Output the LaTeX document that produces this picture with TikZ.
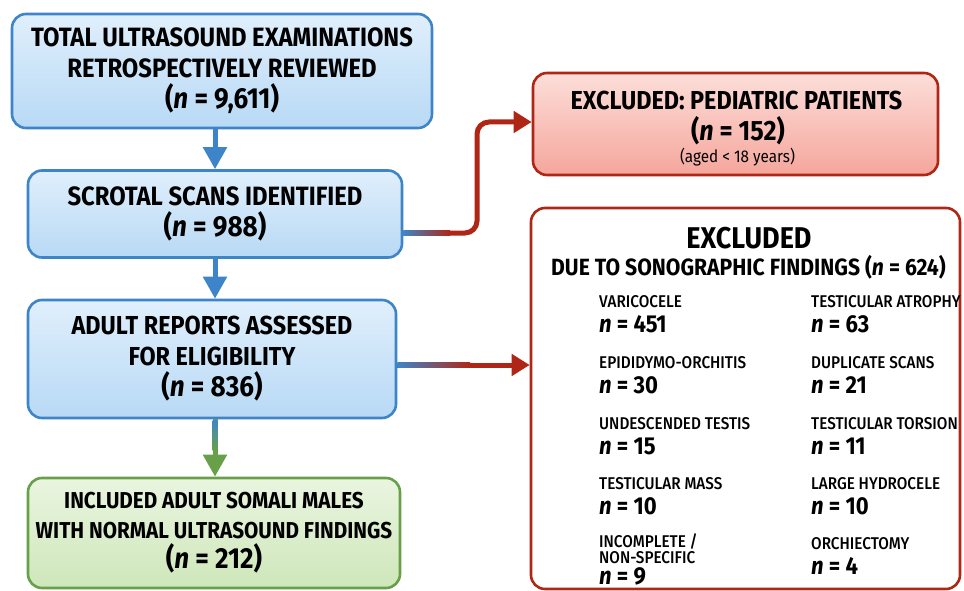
\documentclass[tikz,border=0pt]{standalone}
\usepackage{fontspec}
\setmainfont{Fira Sans}[FakeStretch=0.9]
\newfontfamily\medfont{Fira Sans Medium}[FakeStretch=0.9]
\usetikzlibrary{arrows.meta,calc}
\definecolor{blueline}{RGB}{61,133,200}
\definecolor{bluetop}{RGB}{224,239,252}
\definecolor{bluebot}{RGB}{184,217,245}
\definecolor{greenline}{RGB}{104,160,74}
\definecolor{greentop}{RGB}{234,245,224}
\definecolor{greenbot}{RGB}{206,231,186}
\definecolor{redline}{RGB}{176,38,22}
\definecolor{redtop}{RGB}{252,222,217}
\definecolor{redbot}{RGB}{245,166,156}
\newcommand{\nval}[1]{\textit{n} = #1}
\newcommand{\ncount}[1]{{\fontsize{29}{31}\selectfont(\nval{#1})}}

\begin{document}
\begin{tikzpicture}[x=1pt,y=-1pt,
    flowbox/.style={line width=2.6pt, rounded corners=14pt, align=center, inner sep=0pt,
        font=\bfseries\fontsize{26.5}{31}\selectfont},
    bluebox/.style={flowbox, draw=blueline, top color=bluetop, bottom color=bluebot},
    greenbox/.style={flowbox, draw=greenline, top color=greentop, bottom color=greenbot},
    redbox/.style={flowbox, draw=redline, top color=redtop, bottom color=redbot},
    listbox/.style={flowbox, draw=redline, fill=white},
    boxtext/.style={anchor=base, inner sep=0pt},
    itemlab/.style={anchor=base west, inner sep=0pt, font=\medfont\fontsize{17}{17}\selectfont},
    itemval/.style={anchor=base west, inner sep=0pt, font=\bfseries\fontsize{24.5}{24.5}\selectfont},
    flowarrow/.style={line width=5pt, -{Triangle[length=22pt,width=23pt]}},
    exitarrow/.style={line width=5pt, redline, -{Triangle[length=18pt,width=21pt]}}
]
\useasboundingbox[fill=white] (0,0) rectangle (964,591);

% main column
\node[bluebox, minimum width=420pt, minimum height=114pt] (total) at (222,71)
    {TOTAL ULTRASOUND EXAMINATIONS\\RETROSPECTIVELY REVIEWED\\\ncount{9,611}};
\node[bluebox, minimum width=374pt, minimum height=87pt] (scrotal) at (215,214)
    {SCROTAL SCANS IDENTIFIED\\\ncount{988}};
\node[bluebox, minimum width=368pt, minimum height=118pt, font=\bfseries\fontsize{26}{31}\selectfont] (adult) at (212,359)
    {ADULT REPORTS ASSESSED\\FOR ELIGIBILITY\\\ncount{836}};
\node[greenbox, minimum width=372pt, minimum height=110pt, font=\bfseries\fontsize{23}{30}\selectfont] (included) at (214,533)
    {INCLUDED ADULT SOMALI MALES\\WITH NORMAL ULTRASOUND FINDINGS\\\ncount{212}};

% exclusions
\node[redbox, minimum width=405pt, minimum height=102pt] (pediatric) at (735.5,124) {};
\node[boxtext, font=\bfseries\fontsize{26}{26}\selectfont] (pedtitle) at (736.5,110) {EXCLUDED: PEDIATRIC PATIENTS};
\node[boxtext, font=\bfseries\fontsize{28}{28}\selectfont] (pedcount) at (738,141) {(\nval{152})};
\node[boxtext, font=\fontsize{17}{17}\selectfont] (pedage) at (737.5,163) {(aged < 18 years)};

\node[listbox, minimum width=429pt, minimum height=381pt] (findings) at (745.5,398.5) {};
\node[boxtext, font=\bfseries\fontsize{30}{30}\selectfont] (findtitle) at (749,248) {EXCLUDED};
\node[boxtext, font=\bfseries\fontsize{23.5}{23.5}\selectfont] (findsub) at (748.5,275)
    {DUE TO SONOGRAPHIC FINDINGS (\nval{624})};

% left column of findings
\foreach \lab/\val/\y [count=\i] in {VARICOCELE/451/307, EPIDIDYMO-ORCHITIS/30/368,
    UNDESCENDED TESTIS/15/429, TESTICULAR MASS/10/489}{
  \node[itemlab] (la\i) at (599,\y) {\lab};
  \node[itemval] (va\i) at (599,\y+25) {\nval{\val}};
}
\node[itemlab] (la5) at (599,547) {INCOMPLETE /};
\node[itemlab] (la6) at (599,563) {NON-SPECIFIC};
\node[itemval] (va5) at (599,584) {\nval{9}};

% right column of findings
\foreach \lab/\val/\y [count=\i] in {TESTICULAR ATROPHY/63/307, DUPLICATE SCANS/21/368,
    TESTICULAR TORSION/11/429, LARGE HYDROCELE/10/489, ORCHIECTOMY/4/549}{
  \node[itemlab] (lb\i) at (811,\y) {\lab};
  \node[itemval] (vb\i) at (811,\y+25) {\nval{\val}};
}

% connectors
\draw[flowarrow, blueline] (scrotal.north |- total.south) -- (scrotal.north);
\draw[flowarrow, blueline] (scrotal.south) -- (scrotal.south |- adult.north);
\draw[flowarrow, greenline] (scrotal.south |- adult.south) -- (scrotal.south |- included.north);
\shade[top color=blueline, bottom color=greenline] (212.5,420) rectangle (217.5,450);
\draw[exitarrow, rounded corners=12pt] ([yshift=-19pt]scrotal.east) -| (477,122) -- (pediatric.west |- 0,122);
\shade[left color=blueline, right color=redline] (403.3,230.5) rectangle (450,235.5);
\draw[exitarrow] ([yshift=-6pt]adult.east) -- ([yshift=-6pt]adult.east -| findings.west);
\shade[left color=blueline, right color=redline] (397.3,362.5) rectangle (470,367.5);
\end{tikzpicture}
\end{document}
